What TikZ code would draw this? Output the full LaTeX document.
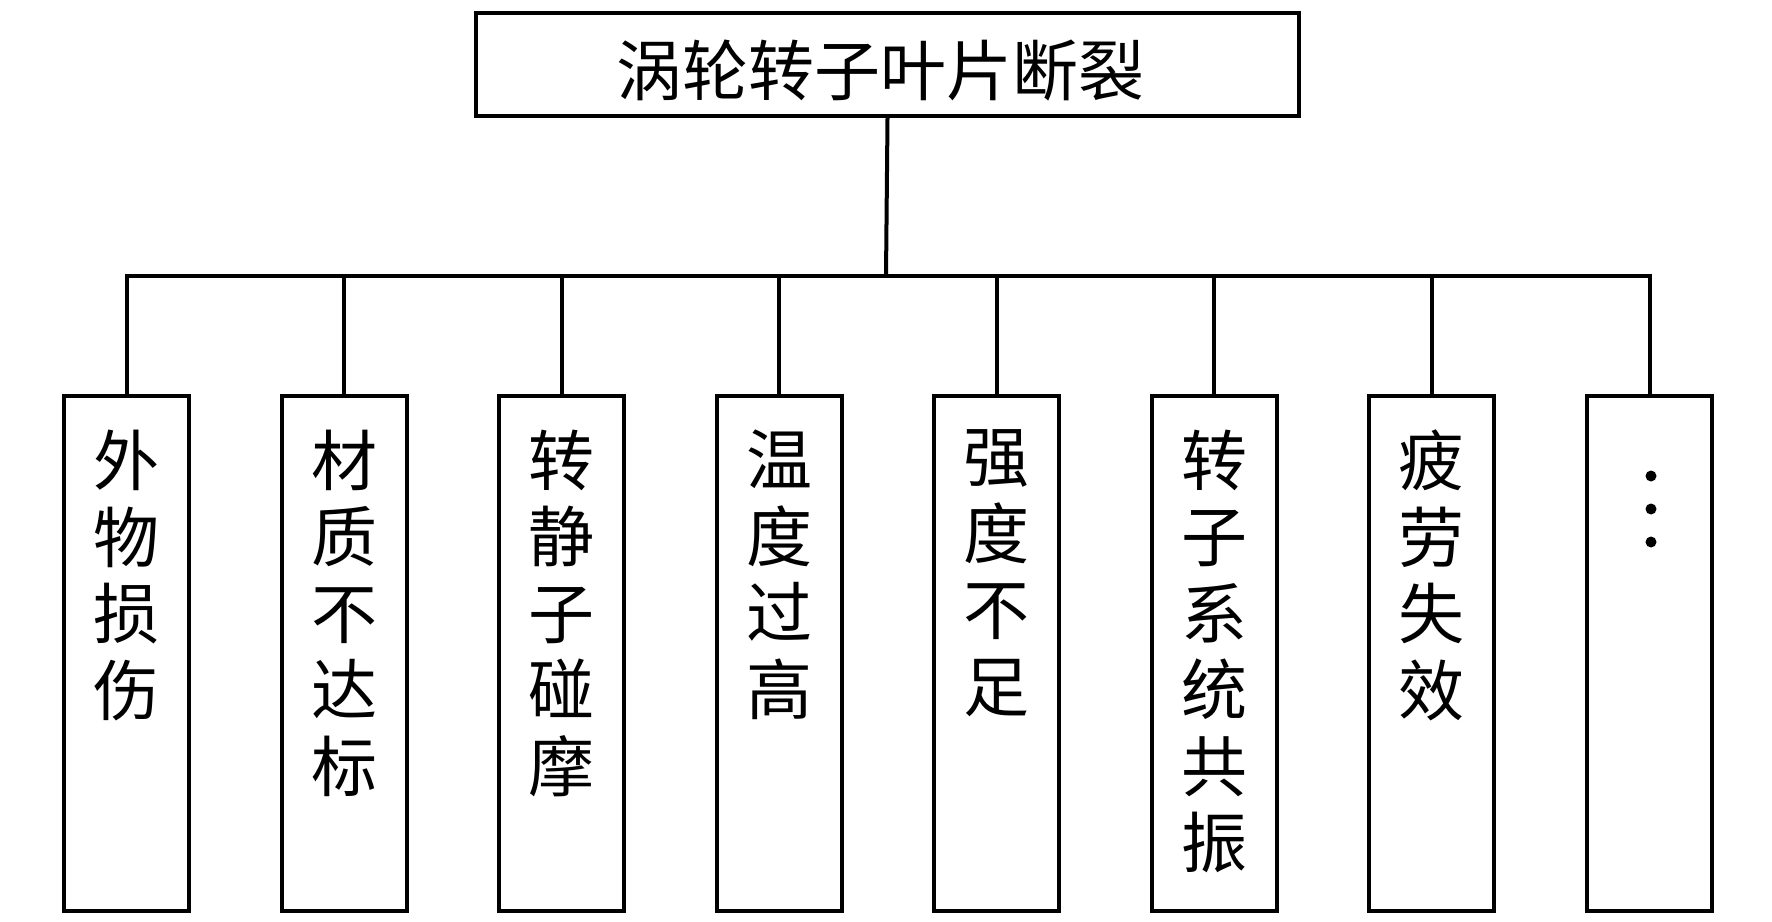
\documentclass[tikz,border=0pt]{standalone}
\usepackage{fontspec}
\newfontfamily\cjk{Noto Sans CJK SC}
\begin{document}
\begin{tikzpicture}[x=1pt,y=-1pt,
  line width=4pt,
  boxstyle/.style={draw, rectangle, inner sep=0pt, minimum width=125pt, minimum height=515pt, anchor=north west},
  coltext/.style={anchor=north, inner sep=0pt, align=center, font=\cjk\fontsize{66}{76.5}\selectfont},
  dotstyle/.style={fill=black, draw=none}]
\useasboundingbox (0,0) rectangle (1772,921);
\node[draw, rectangle, inner sep=0pt, minimum width=823pt, minimum height=103pt, anchor=north west] (top) at (474,11) {};
\node[inner sep=0pt, font=\cjk\fontsize{66}{76}\selectfont] (title) at (880,71) {涡轮转子叶片断裂};
\coordinate (j) at (886,276);
\foreach \i/\t in {1/外\\物\\损\\伤, 2/材\\质\\不\\达\\标, 3/转\\静\\子\\碰\\摩, 4/温\\度\\过\\高, 5/强\\度\\不\\足, 6/转\\子\\系\\统\\共\\振, 7/疲\\劳\\失\\效, 8/{}} {
  \node[boxstyle] (b\i) at ({62+(\i-1)*217.57},394) {};
  \node[coltext] (t\i) at ([yshift=-34pt]b\i.north) {\t};
}
\fill[dotstyle] (1651,476) circle (5.5);
\fill[dotstyle] (1651,509) circle (5.5);
\fill[dotstyle] (1651,542) circle (5.5);
\draw (top.south) -- (j);
\draw (b1.north) -- (b1.north |- j) -- (b8.north |- j) -- (b8.north);
\foreach \i in {2,...,7} { \draw (b\i.north) -- (b\i.north |- j); }
\end{tikzpicture}
\end{document}
